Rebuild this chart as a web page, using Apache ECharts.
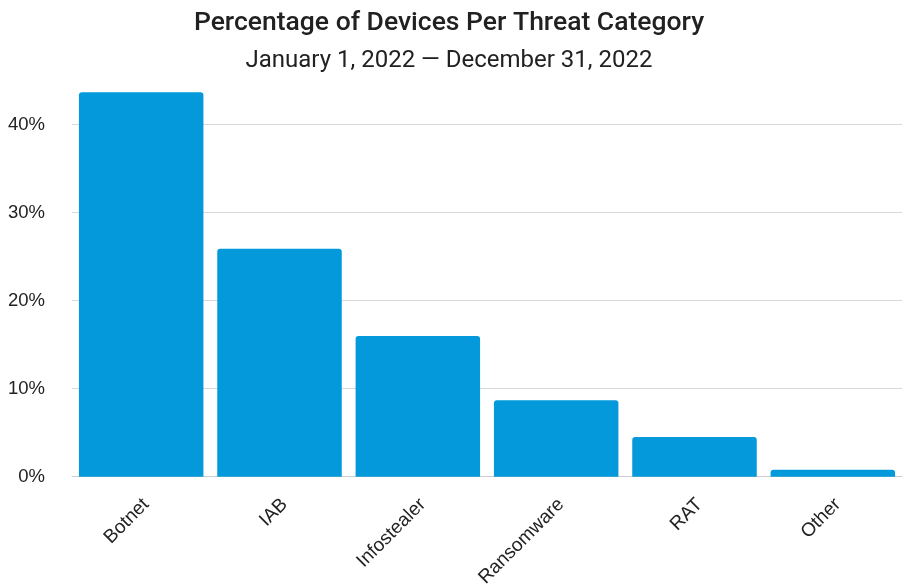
<!DOCTYPE html>
<html>
<head>
<meta charset="utf-8">
<script src="https://cdn.jsdelivr.net/npm/echarts@6/dist/echarts.min.js"></script>
<style>
  html, body { margin: 0; padding: 0; background: #fff; }
  #chart { width: 906px; height: 584px; }
</style>
</head>
<body>
<div id="chart"></div>
<script>
// Share of devices in each threat category, in percent
const categories = ['Botnet', 'IAB', 'Infostealer', 'Ransomware', 'RAT', 'Other'];
const shares = [43.7, 25.9, 16.0, 8.7, 4.5, 0.8];
const yTicks = [0, 10, 20, 30, 40];

const titleText = 'Percentage of Devices Per Threat Category';
const subtitleText = 'January 1, 2022 \u2014 December 31, 2022';

const labelFont = 'Arial, "Liberation Sans", sans-serif';

const chart = echarts.init(document.getElementById('chart'), null, { renderer: 'canvas' });
chart.setOption({
  animation: false,
  backgroundColor: '#ffffff',
  graphic: [
    {
      type: 'text', x: 449, y: 23,
      style: {
        text: titleText, align: 'center', verticalAlign: 'middle',
        font: '500 26.5px Roboto', fill: '#212121'
      }
    },
    {
      type: 'text', x: 449, y: 61,
      style: {
        text: subtitleText, align: 'center', verticalAlign: 'middle',
        font: '400 24px Roboto', fill: '#212121'
      }
    }
  ],
  grid: {
    left: 72, right: 4, top: 89.5, bottom: 107.3,
    containLabel: false, outerBoundsMode: 'none'
  },
  xAxis: {
    type: 'category',
    data: categories,
    axisLine: { show: true, lineStyle: { color: '#cccccc', width: 1 } },
    axisTick: { show: false },
    axisLabel: {
      rotate: 45, margin: 20, fontSize: 19, lineHeight: 14,
      color: '#222222', fontFamily: labelFont, verticalAlign: 'top'
    }
  },
  yAxis: {
    type: 'value',
    min: yTicks[0],
    max: 44,
    interval: 10,
    axisLine: { show: false },
    axisTick: { show: false },
    axisLabel: {
      showMaxLabel: false,
      margin: 27, fontSize: 18.5, color: '#222222', fontFamily: labelFont,
      formatter: v => yTicks.includes(v) ? v + '%' : ''
    },
    splitLine: { show: true, showMaxLine: false, lineStyle: { color: '#d9d9d9', width: 1 } }
  },
  series: [{
    type: 'bar',
    data: shares,
    barCategoryGap: '10%',
    itemStyle: { color: '#0399db', borderRadius: [3, 3, 0, 0] }
  }]
});
</script>
</body>
</html>
